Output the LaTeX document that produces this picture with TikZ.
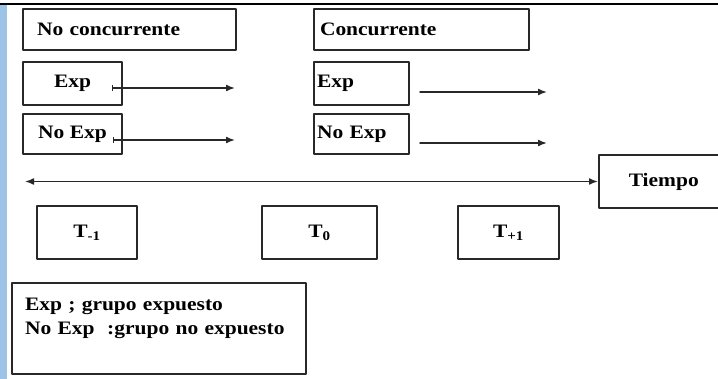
\documentclass[tikz,border=0pt]{standalone}
\usepackage{fontspec}
\setmainfont{Liberation Serif}[FakeStretch=1.13]
\usetikzlibrary{arrows.meta}
\definecolor{barblue}{RGB}{157,195,230}
\definecolor{linegray}{RGB}{40,40,40}
\tikzset{
  caja/.style={draw=linegray, line width=1.6pt, inner sep=0pt, font=\fontsize{19}{24}\selectfont\bfseries},
  flecha/.style={draw=linegray, line width=1.5pt, -{Latex[length=9pt,width=7pt]}},
  flechatick/.style={flecha, {Bar[width=6pt,line width=1.2pt]}-{Latex[length=9pt,width=7pt]}},
}
\begin{document}
\begin{tikzpicture}[line cap=round,line join=round,x=1pt,y=-1pt]
    \useasboundingbox (0,0) rectangle (718,379);
    \clip (0,0) rectangle (718,379);
    \def\rowexp{83.5}
    \def\rownoexp{134}
    \def\rowtime{232.5}
    % frame bars
    \fill[black] (0,3) rectangle (718,5.5);
    \fill[barblue] (0,5.5) rectangle (7,379);

    % no concurrente
    \node (noconc) at (129.5,29.5) [caja,minimum height=41pt,inner xsep=14pt,text width=185pt,align=left] {No concurrente};
    \node (expA) at (72.5,\rowexp) [caja,minimum height=43pt,minimum width=99pt] {Exp};
    \node (noexpA) at (72.5,\rownoexp) [caja,minimum height=40pt,minimum width=99pt] {No Exp};
    \coordinate (expAs) at (112,88);   \coordinate (expAe) at (235,88);
    \coordinate (noexpAs) at (113,140); \coordinate (noexpAe) at (235,140);
    \draw[flechatick] (expAs) -- (expAe);
    \draw[flechatick] (noexpAs) -- (noexpAe);

    % concurrente
    \node (conc) at (421.5,29.5) [caja,minimum height=41pt,inner xsep=6pt,text width=203pt,align=left] {Concurrente};
    \node (expB) at (361.5,\rowexp) [caja,minimum height=43pt,inner xsep=3pt,text width=89pt,align=left] {Exp};
    \node (noexpB) at (361.5,\rownoexp) [caja,minimum height=40pt,inner xsep=3pt,text width=89pt,align=left] {No Exp};
    \coordinate (expBs) at (420,92);   \coordinate (expBe) at (547,92);
    \coordinate (noexpBs) at (420,143); \coordinate (noexpBe) at (547,143);
    \draw[flecha] (expBs) -- (expBe);
    \draw[flecha] (noexpBs) -- (noexpBe);

    % tiempo
    \node (tiempo) at (598,181.5) [caja,anchor=west,minimum height=53pt,minimum width=130pt] {Tiempo};
    \coordinate (tstart) at (25,181.5);
    \draw[flecha,{Latex[length=9pt,width=7pt]}-{Latex[length=9pt,width=7pt]}] (tstart) -- (tiempo.west);
    \foreach \name/\xc/\bw/\lab in {tm/87/100/{-1},tz/319.5/115/{0},tp/508.5/101/{+1}}
      {\node (\name) at (\xc,\rowtime) [caja,minimum height=53pt,minimum width=\bw pt] {T\textsubscript{\lab}};}

    % leyenda
    \node (leyenda) at (159,328.5) [caja,minimum height=91pt,inner xsep=13pt,text width=268pt,align=left]
      {Exp ; grupo expuesto\\No Exp\ \ :grupo no expuesto\\ \mbox{}};
\end{tikzpicture}
\end{document}
